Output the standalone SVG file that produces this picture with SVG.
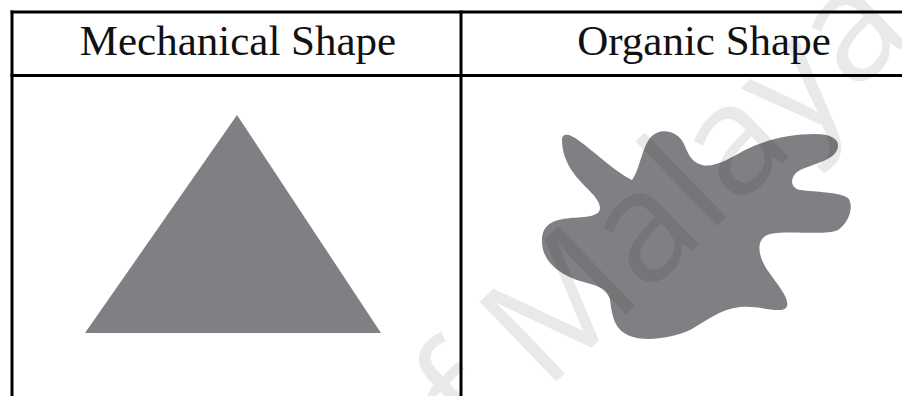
<svg xmlns="http://www.w3.org/2000/svg" width="902" height="396" viewBox="0 0 902 396">
<style>
.rule{stroke:#000;stroke-width:3;fill:none}
.hdr{font-family:"Liberation Serif","Times New Roman",serif;font-size:43px;fill:#111;text-anchor:middle}
.shape{fill:#808084}
.wm{font-family:"Open Sans","Noto Sans",sans-serif;font-size:155px;fill:#000;fill-opacity:0.085}
</style>
<rect width="902" height="396" fill="#fff"/>
<g id="table">
<line class="rule" x1="10.5" y1="12" x2="902" y2="12"/>
<line class="rule" x1="10.5" y1="75.5" x2="902" y2="75.5"/>
<line class="rule" x1="12" y1="10.5" x2="12" y2="396"/>
<line class="rule" x1="461" y1="10.5" x2="461" y2="396"/>
</g>
<g id="header-mechanical"><text class="hdr" x="238" y="55">Mechanical Shape</text></g>
<g id="header-organic"><text class="hdr" x="704" y="55">Organic Shape</text></g>
<g id="triangle"><polygon class="shape" points="237,115 381,333 85,333"/></g>
<g id="blob"><path class="shape" d="M562,140 C562,132 570,134 578,140 C595,152 615,172 632,180 C640,170 642,145 652,136 C660,128 676,130 683,142 C688,152 690,162 702,165 C715,168 730,158 745,150 C765,140 790,134 815,134 C835,134 842,142 836,152 C830,162 805,166 797,172 C790,178 790,188 800,190 C815,192 840,192 848,198 C854,205 850,222 838,230 C825,236 790,230 770,234 C755,238 758,255 766,268 C776,283 792,300 786,308 C778,314 760,305 740,307 C720,309 705,322 690,330 C672,338 645,342 630,336 C614,330 612,315 610,300 C608,288 595,285 580,281 C560,275 543,262 542,243 C541,225 552,220 570,218 C585,217 600,217 600,208 C600,198 585,188 575,175 C565,162 562,150 562,140 Z"/></g>
<g id="watermark"><text class="wm" transform="translate(412,521) rotate(-44)">of Malaya</text></g>
</svg>
